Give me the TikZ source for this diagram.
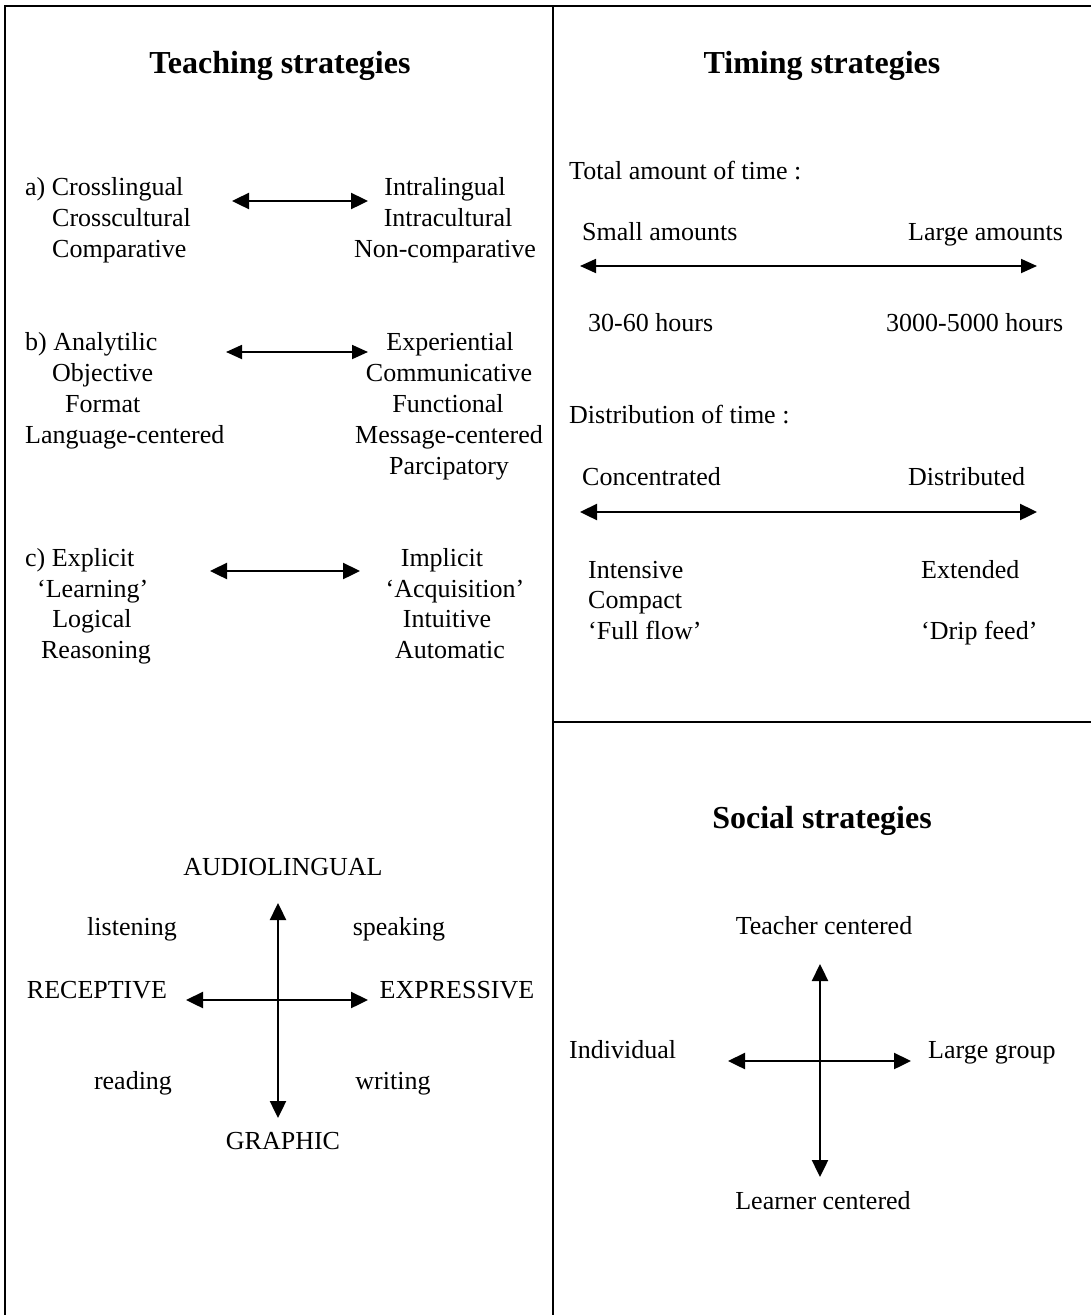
\documentclass[tikz,border=0pt]{standalone}
\usepackage{fontspec}
\setmainfont{Liberation Serif}
\usetikzlibrary{arrows.meta}
\begin{document}
\begin{tikzpicture}[x=1pt,y=-1pt,
  txt/.style={inner sep=0pt,font=\fontsize{26}{31}\selectfont},
  lt/.style={txt,anchor=base west},
  ct/.style={txt,anchor=base},
  ttl/.style={inner sep=0pt,anchor=base,font=\fontsize{32}{38}\bfseries\selectfont},
  frame/.style={line width=1.8pt},
  dbl/.style={line width=2.4pt,{Triangle[length=17pt,width=16pt]}-{Triangle[length=17pt,width=16pt]}},
  dblthin/.style={line width=1.8pt,{Triangle[length=16pt,width=14pt]}-{Triangle[length=16pt,width=14pt]}}
]
\useasboundingbox (0,0) rectangle (1091,1315);
% frame
\coordinate (tl) at (5,6);
\coordinate (tr) at (1091,6);
\coordinate (bl) at (5,1315);
\coordinate (mt) at (553,6);
\coordinate (mb) at (553,1315);
\coordinate (hl) at (553,722);
\coordinate (hr) at (1091,722);
\draw[frame] (bl) -- (tl) -- (tr);
\draw[frame] (mt) -- (mb);
\draw[frame] (hl) -- (hr);

% Teaching strategies
\node[ttl] (t1) at (280,73) {Teaching strategies};

\node[lt] (a1) at (25,195) {a) Crosslingual};
\node[lt] (a2) at (52,226) {Crosscultural};
\node[lt] (a3) at (52,257) {Comparative};
\node[ct] (ra1) at (445,195) {Intralingual};
\node[ct] (ra2) at (448,226) {Intracultural};
\node[ct] (ra3) at (445,257) {Non-comparative};
\coordinate (aL) at (232,201);
\coordinate (aR) at (368,201);
\draw[dbl] (aL) -- (aR);

\node[lt] (b1) at (25,350) {b) Analytilic};
\node[lt] (b2) at (52,381) {Objective};
\node[lt] (b3) at (65,412) {Format};
\node[lt] (b4) at (25,443) {Language-centered};
\node[ct] (rb1) at (450,350) {Experiential};
\node[ct] (rb2) at (449,381) {Communicative};
\node[ct] (rb3) at (448,412) {Functional};
\node[ct] (rb4) at (449,443) {Message-centered};
\node[ct] (rb5) at (449,474) {Parcipatory};
\coordinate (bL) at (226,352);
\coordinate (bR) at (368,352);
\draw[dblthin] (bL) -- (bR);

\node[lt] (c1) at (25,566) {c) Explicit};
\node[lt] (c2) at (37,597) {‘Learning’};
\node[ct] (c3) at (92,627) {Logical};
\node[ct] (c4) at (96,658) {Reasoning};
\node[ct] (rc1) at (442,566) {Implicit};
\node[ct] (rc2) at (455,597) {‘Acquisition’};
\node[ct] (rc3) at (447,627) {Intuitive};
\node[ct] (rc4) at (450,658) {Automatic};
\coordinate (cL) at (210,571);
\coordinate (cR) at (360,571);
\draw[dbl] (cL) -- (cR);

% quadrant
\node[ct] (q1) at (283,875) {AUDIOLINGUAL};
\node[ct] (q2) at (132,935) {listening};
\node[ct] (q3) at (399,935) {speaking};
\node[ct] (q4) at (97,998) {RECEPTIVE};
\node[ct] (q5) at (457,998) {EXPRESSIVE};
\node[ct] (q6) at (133,1089) {reading};
\node[ct] (q7) at (393,1089) {writing};
\node[ct] (q8) at (283,1149) {GRAPHIC};
\coordinate (qT) at (278,903);
\coordinate (qB) at (278,1118);
\coordinate (qL) at (186,1000);
\coordinate (qR) at (368,1000);
\draw[dbl] (qT) -- (qB);
\draw[dbl] (qL) -- (qR);

% Timing strategies
\node[ttl] (t2) at (822,73) {Timing strategies};
\node[lt] (m1) at (569,179) {Total amount of time :};
\node[lt] (m2) at (582,240) {Small amounts};
\node[lt] (m3) at (908,240) {Large amounts};
\coordinate (mL) at (580,266);
\coordinate (mR) at (1037,266);
\draw[dblthin] (mL) -- (mR);
\node[lt] (m4) at (588,331) {30-60 hours};
\node[lt] (m5) at (886,331) {3000-5000 hours};
\node[lt] (n1) at (569,423) {Distribution of time :};
\node[lt] (n2) at (582,485) {Concentrated};
\node[lt] (n3) at (908,485) {Distributed};
\coordinate (nL) at (580,512);
\coordinate (nR) at (1037,512);
\draw[dbl] (nL) -- (nR);
\node[lt] (n4) at (588,578) {Intensive};
\node[lt] (n5) at (588,608) {Compact};
\node[lt] (n6) at (588,639) {‘Full flow’};
\node[lt] (n7) at (921,578) {Extended};
\node[lt] (n8) at (921,639) {‘Drip feed’};

% Social strategies
\node[ttl] (t3) at (822,828) {Social strategies};
\node[ct] (s1) at (824,934) {Teacher centered};
\node[lt] (s2) at (569,1058) {Individual};
\node[lt] (s3) at (928,1058) {Large group};
\node[ct] (s4) at (823,1209) {Learner centered};
\coordinate (sT) at (820,964);
\coordinate (sB) at (820,1177);
\coordinate (sL) at (728,1061);
\coordinate (sR) at (911,1061);
\draw[dbl] (sT) -- (sB);
\draw[dbl] (sL) -- (sR);
\end{tikzpicture}
\end{document}
